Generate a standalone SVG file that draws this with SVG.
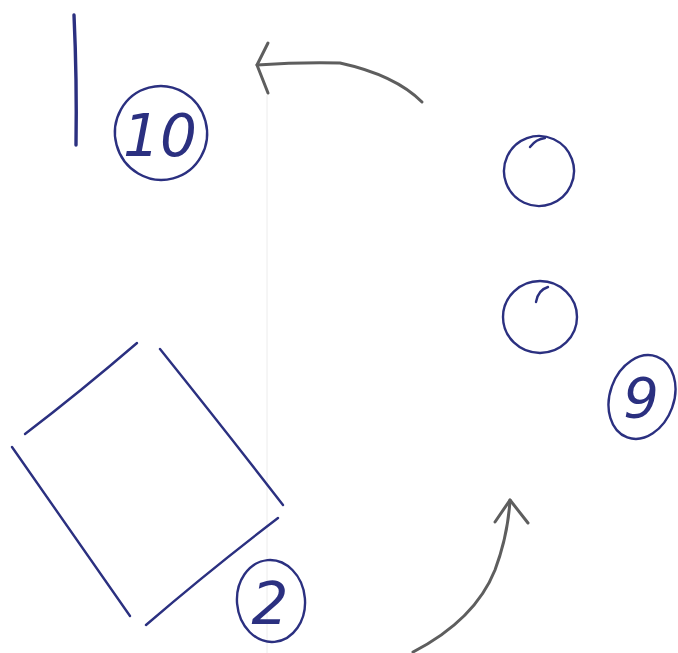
<svg xmlns="http://www.w3.org/2000/svg" width="678" height="653" viewBox="0 0 678 653">
<style>
.ink{fill:none;stroke:#2b3080;stroke-width:2.4;stroke-linecap:round;stroke-linejoin:round}
.thick{stroke-width:3.4}
.pencil{fill:none;stroke:#5e5e5e;stroke-width:3;stroke-linecap:round;stroke-linejoin:round}
.num{font-family:"DejaVu Sans","Liberation Sans",sans-serif;font-style:oblique;font-weight:200;fill:#2b3080;text-anchor:middle}
</style>
<rect width="678" height="653" fill="#ffffff"/>
<line x1="267" y1="95" x2="267" y2="653" stroke="#ececec" stroke-width="1"/>
<g id="bar"><path class="ink thick" d="M74 15 Q77 80 76 145"/></g>
<g id="label10">
<ellipse class="ink" cx="161" cy="133" rx="46" ry="47" transform="rotate(-15 161 133)"/>
<text class="num" x="160" y="156" font-size="58">10</text>
</g>
<g id="circle1">
<ellipse class="ink" cx="539" cy="171" rx="35" ry="35" transform="rotate(25 539 171)"/>
<path class="ink" d="M530 147 Q536 139 545 138"/>
</g>
<g id="circle2">
<ellipse class="ink" cx="540" cy="317" rx="37" ry="36"/>
<path class="ink" d="M536 302 Q538 290 548 287"/>
</g>
<g id="label9">
<ellipse class="ink" cx="642" cy="397" rx="32" ry="43" transform="rotate(20 642 397)"/>
<text class="num" x="641" y="417" font-size="56">9</text>
</g>
<g id="square">
<path class="ink" d="M25 434 Q80 392 137 343"/>
<path class="ink" d="M160 349 Q225 430 283 505"/>
<path class="ink" d="M278 518 Q210 570 146 625"/>
<path class="ink" d="M12 447 Q70 530 130 616"/>
</g>
<g id="label2">
<ellipse class="ink" cx="271" cy="601" rx="34" ry="41" transform="rotate(-5 271 601)"/>
<text class="num" x="270" y="624" font-size="58">2</text>
</g>
<g id="connectors">
<path class="pencil" d="M422 102 Q395 75 340 63 Q300 62 257 65"/>
<path class="pencil" d="M268 43 L257 65 L268 93"/>
<path class="pencil" d="M413 652 Q475 620 495 570 Q508 535 510 500"/>
<path class="pencil" d="M495 522 L510 500 L528 523"/>
</g>
</svg>
